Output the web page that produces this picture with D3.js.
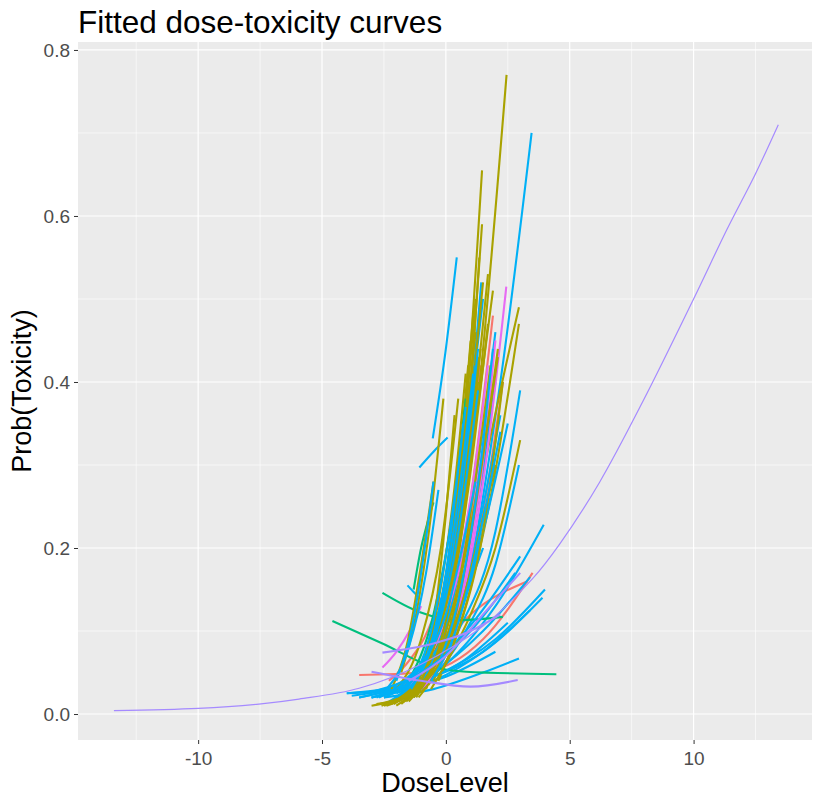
<!DOCTYPE html>
<html><head><meta charset="utf-8">
<script src="https://cdn.jsdelivr.net/npm/d3@7"></script>
<style>body{margin:0;background:#fff;} text{font-family:"Liberation Sans",Arial,sans-serif;}</style>
</head><body>
<svg id="c" width="814" height="798"></svg>
<script>
const xTicks = [-10, -5, 0, 5, 10];
const xTickLabels = ["-10", "-5", "0", "5", "10"];
const yTicks = [0.0, 0.2, 0.4, 0.6, 0.8];
const yTickLabels = ["0.0", "0.2", "0.4", "0.6", "0.8"];

// long reference curve (lavender)
const longCurve = [[-13.4,0.004],[-10,0.0068],[-7.55,0.012],[-5.93,0.018],[-3.5,0.031],[-1,0.06],[1.5,0.106],[3.5,0.163],[4.6,0.205],[6.2,0.279],[7.96,0.377],[10,0.5],[11.35,0.584],[12.5,0.651],[13.42,0.71]];

const curvesOlive = [
 [[-1.5,0.015],[0.0,0.11],[1.3,0.38],[2.45,0.77]],
 [[-1.2,0.02],[-0.1,0.12],[0.8,0.36],[1.46,0.655]],
 [[-1.3,0.02],[-0.2,0.11],[0.8,0.33],[1.46,0.59]],
 [[-1.0,0.025],[0.0,0.12],[0.8,0.31],[1.35,0.55]],
 [[-1.1,0.02],[0.0,0.1],[0.9,0.3],[1.7,0.53]],
 [[-0.8,0.03],[0.1,0.12],[0.9,0.28],[1.9,0.51]],
 [[-0.5,0.04],[0.5,0.13],[1.5,0.29],[2.95,0.49]],
 [[-0.3,0.04],[0.7,0.12],[1.8,0.26],[2.95,0.47]],
 [[-0.2,0.05],[1.0,0.12],[2.0,0.2],[3.0,0.33]],
 [[-1.8,0.012],[-0.6,0.07],[0.3,0.22],[1.0,0.45]],
 [[-1.6,0.015],[-0.5,0.08],[0.4,0.25],[1.1,0.48]],
 [[-2.0,0.01],[-0.7,0.06],[0.2,0.2],[0.9,0.42]],
 [[-2.5,0.01],[-1.0,0.04],[0.2,0.14],[1.3,0.4]],
 [[-1.4,0.02],[-0.3,0.09],[0.6,0.26],[1.5,0.52]],
 [[-2.2,0.012],[-0.8,0.05],[0.3,0.16],[1.2,0.38]],
 [[-3.0,0.01],[-1.5,0.025],[-0.2,0.07],[1.0,0.2]],
 [[-2.8,0.012],[-1.2,0.03],[0.2,0.09],[1.6,0.25]],
 [[-0.9,0.05],[-0.4,0.13],[0.0,0.24],[0.35,0.36]],
 [[-1.2,0.03],[-0.2,0.12],[0.6,0.3],[1.2,0.5]],
 [[-0.6,0.03],[0.5,0.1],[1.5,0.22],[2.3,0.4]],
 [[-2.4,0.01],[-0.9,0.04],[0.5,0.12],[2.0,0.3]],
 [[-1.7,0.015],[-0.5,0.06],[0.6,0.17],[1.8,0.42]],
 [[-1.9,0.015],[-0.6,0.08],[0.4,0.24],[1.2,0.46]],
 [[-1.3,0.02],[-0.1,0.1],[0.9,0.27],[1.7,0.47]],
 [[-2.1,0.012],[-0.8,0.06],[0.3,0.19],[1.4,0.44]],
 [[-0.7,0.035],[0.4,0.12],[1.3,0.27],[2.1,0.44]],
 [[-1.5,0.02],[-0.4,0.09],[0.5,0.24],[1.3,0.43]],
 [[-2.6,0.01],[-1.2,0.04],[0.0,0.13],[1.1,0.33]],
 [[-1.0,0.03],[0.2,0.11],[1.2,0.26],[2.1,0.43]],
 [[-2.3,0.012],[-1.0,0.05],[0.0,0.15],[0.8,0.33]],
 [[-1.1,0.04],[-0.4,0.12],[0.3,0.26],[0.8,0.41]],
 [[-2.2,0.03],[-1.6,0.08],[-1.0,0.18],[-0.5,0.28]],
 [[-1.8,0.05],[-1.2,0.12],[-0.6,0.24],[-0.1,0.38]],
 [[-2.0,0.03],[-1.0,0.09],[-0.2,0.2],[0.5,0.38]]
];

const curvesBlue = [
 [[-1.0,0.03],[0.8,0.15],[2.2,0.4],[3.46,0.70]],
 [[-0.53,0.332],[0.0,0.44],[0.44,0.55]],
 [[-1.07,0.297],[-0.5,0.316],[0.07,0.333]],
 [[-1.5,0.02],[-0.3,0.1],[0.6,0.28],[1.5,0.5]],
 [[-1.3,0.02],[-0.2,0.1],[0.7,0.28],[1.43,0.52]],
 [[-1.5,0.02],[0.5,0.1],[2.0,0.22],[3.0,0.39]],
 [[-1.0,0.03],[0.8,0.1],[2.0,0.18],[2.95,0.3]],
 [[-3.0,0.02],[0.0,0.06],[2.0,0.13],[3.95,0.228]],
 [[-3.5,0.02],[-0.5,0.045],[2.0,0.09],[4.0,0.15]],
 [[-4.0,0.025],[-1.0,0.04],[1.5,0.075],[3.9,0.14]],
 [[-3.0,0.02],[-0.5,0.04],[1.5,0.075],[3.4,0.125]],
 [[-2.5,0.02],[-0.5,0.03],[1.5,0.05],[2.95,0.067]],
 [[-4.0,0.025],[-2.0,0.03],[0.0,0.045],[2.0,0.075]],
 [[-3.0,0.02],[-0.5,0.05],[1.5,0.1],[3.4,0.165]],
 [[-2.0,0.02],[-0.8,0.07],[0.2,0.2],[1.0,0.4]],
 [[-1.8,0.02],[-0.6,0.08],[0.3,0.22],[1.2,0.42]],
 [[-2.3,0.015],[-1.0,0.06],[0.0,0.17],[0.7,0.35]],
 [[-1.0,0.03],[0.2,0.1],[1.2,0.24],[2.0,0.4]],
 [[-0.8,0.04],[0.5,0.12],[1.5,0.25],[2.2,0.36]],
 [[-2.5,0.02],[-1.2,0.05],[-0.2,0.13],[0.6,0.3]],
 [[-0.5,0.05],[0.5,0.12],[1.5,0.22],[2.5,0.35]],
 [[-1.55,0.155],[-1.3,0.147],[-1.07,0.14]],
 [[-2.3,0.03],[-1.0,0.06],[0.2,0.12],[1.0,0.2]],
 [[-3.8,0.022],[-1.5,0.035],[0.5,0.06],[2.5,0.11]],
 [[-2.0,0.025],[-0.5,0.06],[0.8,0.14],[1.8,0.26]],
 [[-1.6,0.03],[-0.6,0.09],[0.3,0.2],[0.9,0.3]],
 [[-3.5,0.02],[-1.5,0.04],[0.5,0.09],[3.0,0.19]],
 [[-0.9,0.04],[0.3,0.14],[1.3,0.3],[2.0,0.46]],
 [[-2.8,0.02],[-1.2,0.05],[0.3,0.11],[1.5,0.2]],
 [[-1.4,0.03],[-0.4,0.1],[0.5,0.24],[1.3,0.44]],
 [[-2.0,0.02],[-0.7,0.07],[0.4,0.2],[1.3,0.39]],
 [[-1.2,0.04],[-0.3,0.12],[0.5,0.26],[1.1,0.41]],
 [[-0.6,0.04],[0.5,0.11],[1.4,0.22],[2.2,0.34]],
 [[-2.7,0.02],[-1.3,0.05],[0.0,0.12],[1.2,0.28]],
 [[-1.7,0.03],[-0.6,0.1],[0.2,0.23],[0.8,0.37]],
 [[-3.2,0.025],[-1.0,0.05],[1.0,0.1],[2.8,0.17]],
 [[-0.3,0.06],[0.6,0.15],[1.4,0.3],[1.9,0.44]],
 [[-2.0,0.04],[-1.4,0.1],[-0.9,0.19],[-0.5,0.28]],
 [[-2.4,0.03],[-1.5,0.08],[-0.8,0.17],[-0.3,0.27]]
];

const curvesRed = [
 [[-3.5,0.047],[-1.0,0.05],[1.5,0.09],[3.5,0.17]],
 [[-1.2,0.03],[0.0,0.1],[1.0,0.26],[1.9,0.48]],
 [[-2.5,0.02],[-1.0,0.06],[0.2,0.15],[1.0,0.3]],
 [[-2.3,0.04],[-1.6,0.06],[-0.9,0.09],[-0.2,0.14]],
 [[-0.6,0.04],[0.6,0.12],[1.6,0.26],[2.3,0.4]],
 [[-2.0,0.03],[-0.5,0.07],[1.0,0.12],[3.3,0.16]],
 [[-1.8,0.03],[-0.6,0.09],[0.4,0.22],[1.4,0.42]]
];

const curvesMagenta = [
 [[-1.0,0.03],[0.5,0.12],[1.6,0.3],[2.44,0.515]],
 [[-2.56,0.056],[-2.0,0.075],[-1.47,0.1],[-1.0,0.13]],
 [[-0.5,0.05],[0.6,0.14],[1.4,0.28],[2.0,0.45]],
 [[-1.5,0.03],[-0.2,0.1],[0.9,0.22],[1.8,0.38]],
 [[-1.3,0.04],[0.0,0.12],[1.1,0.28],[1.7,0.42]]
];

const curvesLavender = [
 [[-3.0,0.051],[-1.0,0.04],[1.0,0.033],[2.9,0.041]],
 [[-2.56,0.074],[-0.5,0.085],[1.0,0.1],[2.2,0.12]],
 [[-1.5,0.04],[0.0,0.07],[1.5,0.12],[3.0,0.17]]
];

const curvesGreen = [
 [[-2.56,0.146],[-1.07,0.123],[0.55,0.113],[2.3,0.117]],
 [[-1.3,0.15],[-1.0,0.2],[-0.75,0.23],[-0.5,0.255]],
 [[-1.5,0.04],[-0.5,0.12],[0.3,0.25],[0.8,0.38]],
 [[-4.58,0.112],[-2.56,0.085],[-0.53,0.057],[0.82,0.051],[4.46,0.048]]
];

const svg = d3.select("#c");
const L = 78, R = 812, T = 42, B = 740;
const x = d3.scaleLinear().domain([-14.85, 14.78]).range([L, R]);
const y = d3.scaleLinear().domain([-0.0313, 0.8096]).range([B, T]);

svg.append("rect").attr("x", L).attr("y", T).attr("width", R - L).attr("height", B - T).attr("fill", "#EBEBEB");

const xMinor = [-12.5, -7.5, -2.5, 2.5, 7.5, 12.5];
const yMinor = [0.1, 0.3, 0.5, 0.7];
const g = svg.append("g");
xMinor.forEach(v => g.append("line").attr("x1", x(v)).attr("x2", x(v)).attr("y1", T).attr("y2", B).attr("stroke", "#fff").attr("stroke-width", 0.6));
yMinor.forEach(v => g.append("line").attr("y1", y(v)).attr("y2", y(v)).attr("x1", L).attr("x2", R).attr("stroke", "#fff").attr("stroke-width", 0.6));
xTicks.forEach(v => g.append("line").attr("x1", x(v)).attr("x2", x(v)).attr("y1", T).attr("y2", B).attr("stroke", "#fff").attr("stroke-width", 1.2));
yTicks.forEach(v => g.append("line").attr("y1", y(v)).attr("y2", y(v)).attr("x1", L).attr("x2", R).attr("stroke", "#fff").attr("stroke-width", 1.2));

const line = d3.line().x(d => x(d[0])).y(d => y(d[1])).curve(d3.curveMonotoneX);
const longLine = d3.line().x(d => x(d[0])).y(d => y(d[1])).curve(d3.curveCatmullRom.alpha(0.5));

function draw(arr, color, w) {
  svg.append("g").selectAll("path").data(arr).join("path")
    .attr("d", line).attr("fill", "none").attr("stroke", color)
    .attr("stroke-width", w).attr("stroke-linecap", "butt");
}
const W = 2.1;
draw(curvesRed, "#F8766D", W);
draw(curvesBlue.slice(0, 15), "#00B0F6", W);
draw(curvesOlive.slice(0, 16), "#A9A200", W);
draw(curvesGreen, "#00BF7D", W);
draw(curvesBlue.slice(15, 29), "#00B0F6", W);
draw(curvesMagenta, "#E76BF3", W);
draw(curvesOlive.slice(16), "#A9A200", W);
draw(curvesBlue.slice(29), "#00B0F6", W);
draw(curvesLavender, "#A58AFF", W);
svg.append("path").datum(longCurve).attr("d", longLine).attr("fill", "none").attr("stroke", "#A58AFF").attr("stroke-width", 1.2);

// axes
const xAxis = d3.axisBottom(x).tickValues(xTicks).tickSize(4).tickPadding(8).tickFormat((d, i) => xTickLabels[i]);
const ax = svg.append("g").attr("transform", `translate(0,${B})`).call(xAxis);
ax.select(".domain").remove();
ax.selectAll("line").attr("stroke", "#333");
ax.selectAll("text").attr("fill", "#4D4D4D").style("font-size", "19px").style("font-family", "Liberation Sans, Arial, sans-serif");

const yAxis = d3.axisLeft(y).tickValues(yTicks).tickSize(4).tickPadding(4).tickFormat((d, i) => yTickLabels[i]);
const ay = svg.append("g").attr("transform", `translate(${L},0)`).call(yAxis);
ay.select(".domain").remove();
ay.selectAll("line").attr("stroke", "#333");
ay.selectAll("text").attr("fill", "#4D4D4D").style("font-size", "19px").style("font-family", "Liberation Sans, Arial, sans-serif");

svg.append("text").attr("x", L).attr("y", 33).attr("font-size", 31.5).attr("fill", "#000").text("Fitted dose-toxicity curves");
svg.append("text").attr("x", (L + R) / 2).attr("y", 792).attr("text-anchor", "middle").attr("font-size", 27).attr("fill", "#000").text("DoseLevel");
svg.append("text").attr("transform", `translate(31,${(T + B) / 2}) rotate(-90)`).attr("text-anchor", "middle").attr("font-size", 27).attr("fill", "#000").text("Prob(Toxicity)");
</script>
</body></html>
